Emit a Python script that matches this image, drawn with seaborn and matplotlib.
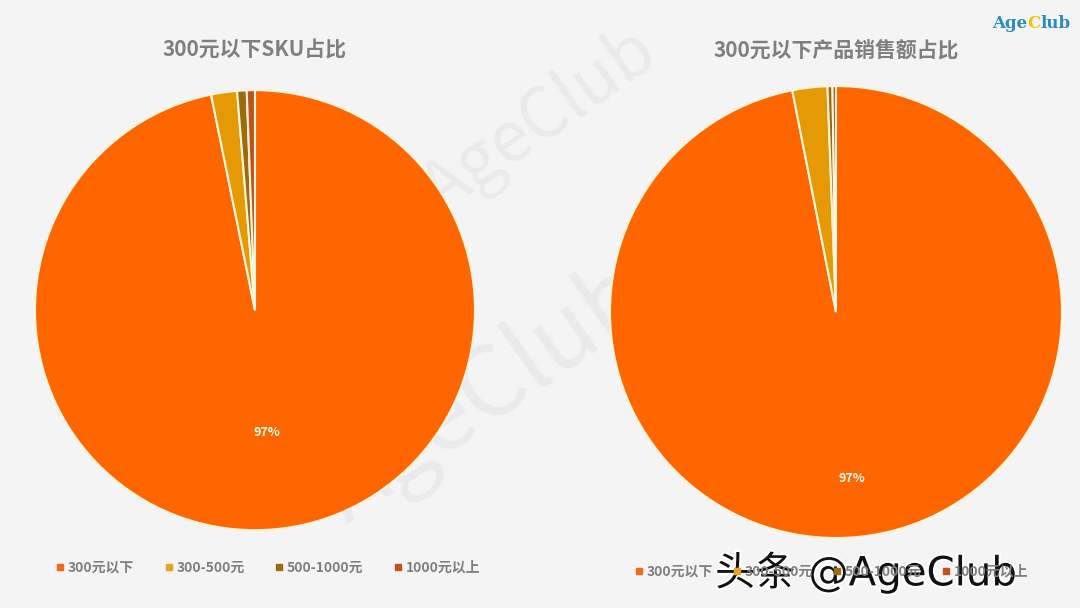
import numpy as np
import seaborn as sns
import matplotlib.pyplot as plt
import matplotlib.patheffects as pe
from matplotlib.lines import Line2D

# 数据
categorias = ['300元以下', '300-500元', '500-1000元', '1000元以上']
sku_pct = [96.8, 1.9, 0.7, 0.6]
ventas_pct = [96.9, 2.5, 0.35, 0.25]
titulos = ['300元以下SKU占比', '300元以下产品销售额占比']

colores_pie = ['#FF6600', '#E59A05', '#9B6B0C', '#C0511A']
colores_ley = ['#F26A1B', '#E8A21E', '#9A6B10', '#C0521E']

sns.set_theme(style='white')
plt.rcParams['font.family'] = ['Noto Sans CJK SC', 'DejaVu Sans']

fig = plt.figure(figsize=(10.8, 6.08), dpi=100)
fig.patch.set_facecolor('#F4F4F5')

# 水印 (fondo)
for (x, y, s) in [(0.45, 0.35, 70), (0.50, 0.80, 50)]:
    fig.text(x, y, 'AgeClub', fontsize=s, color='#EAEAEC', rotation=35,
             ha='center', va='center', zorder=-5)

ejes = [fig.add_axes([0.0324, 0.128, 0.4074, 0.7237]),
        fig.add_axes([0.5648, 0.1151, 0.4185, 0.7434])]
pct_dist = [0.56, 0.74]

for ax, vals, pd_ in zip(ejes, [sku_pct, ventas_pct], pct_dist):
    ax.set_facecolor('none')
    wedges, _, autot = ax.pie(vals, colors=colores_pie, startangle=90, counterclock=False,
                              autopct=lambda p: f'{p:.0f}%' if p > 50 else '',
                              pctdistance=pd_,
                              wedgeprops=dict(edgecolor='#FFF4DC', linewidth=1.5))
    for t in autot:
        t.set_color('white')
        t.set_fontsize(9)
        t.set_fontweight('bold')
    ax.set_xlim(-1, 1)
    ax.set_ylim(-1, 1)
    ax.set_aspect('equal')

# 标题
fig.text(255 / 1080, 1 - 50 / 608, titulos[0], fontsize=15, fontweight='bold',
         color='#7F7F7F', ha='center', va='center')
fig.text(836 / 1080, 1 - 50 / 608, titulos[1], fontsize=15, fontweight='bold',
         color='#7F7F7F', ha='center', va='center')

# 图例
handles = [Line2D([0], [0], marker='s', linestyle='', markersize=5,
                  markerfacecolor=c, markeredgecolor=c) for c in colores_ley]
fig.legend(handles, categorias, loc='center left', bbox_to_anchor=(0.037, 1 - 568 / 608),
           ncol=4, frameon=False, handletextpad=0.0, columnspacing=1.95, handlelength=1.1,
           labelcolor='#7F7F7F', prop={'weight': 'bold', 'size': 10})
fig.legend(handles, categorias, loc='center left', bbox_to_anchor=(0.573, 1 - 572 / 608),
           ncol=4, frameon=False, handletextpad=0.0, columnspacing=1.2, handlelength=1.1,
           labelcolor='#7F7F7F', prop={'weight': 'bold', 'size': 10})

# Logo
renderer = fig.canvas.get_renderer()
x0 = 992
for parte, col in [('Age', '#2A8BC2'), ('C', '#F2C200'), ('lub', '#2A8BC2')]:
    t = fig.text(x0 / 1080, 1 - 24 / 608, parte, fontsize=12, fontweight='bold', color=col,
                 family='DejaVu Serif', ha='left', va='center')
    x0 += t.get_window_extent(renderer).width

# 头条水印
fig.text(715 / 1080, 1 - 573 / 608, '头条 @AgeClub', fontsize=29, color='#111111',
         ha='left', va='center', family=['DejaVu Sans', 'Noto Sans CJK SC'],
         path_effects=[pe.withStroke(linewidth=3, foreground='white')])

fig.savefig('out.png', dpi=100, facecolor=fig.get_facecolor())
